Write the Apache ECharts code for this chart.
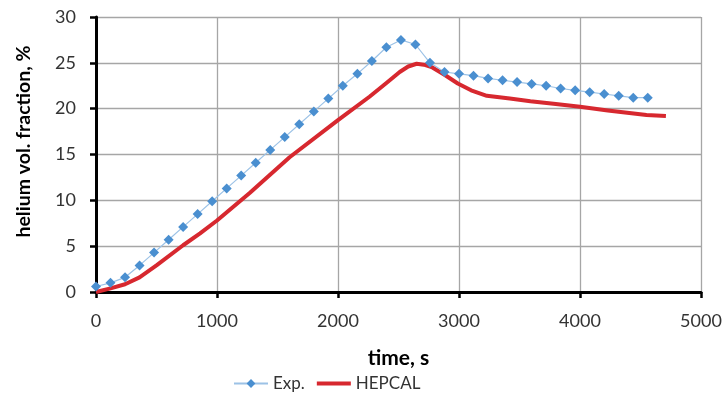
<!DOCTYPE html>
<html>
<head>
<meta charset="utf-8">
<script src="https://cdn.jsdelivr.net/npm/echarts@6/dist/echarts.min.js"></script>
<style>
  html, body { margin: 0; padding: 0; background: #fff; }
  #chart { width: 725px; height: 399px; }
</style>
</head>
<body>
<div id="chart"></div>
<script>
const FONT = 'Lato, "Open Sans", sans-serif';

// measured experiment (time in s, helium vol. fraction in %)
const expTime = [0, 120, 240, 360, 480, 600, 720, 840, 960, 1080, 1200, 1320, 1440, 1560, 1680, 1800,
  1920, 2040, 2160, 2280, 2400, 2520, 2640, 2760, 2880, 3000, 3120, 3240, 3360, 3480, 3600, 3720,
  3840, 3960, 4080, 4200, 4320, 4440, 4560];
const expValue = [0.6, 1.0, 1.6, 2.9, 4.3, 5.7, 7.1, 8.5, 9.9, 11.3, 12.7, 14.1, 15.5, 16.9, 18.3, 19.7,
  21.1, 22.5, 23.8, 25.2, 26.7, 27.5, 27.0, 25.0, 24.0, 23.8, 23.6, 23.3, 23.1, 22.9, 22.7, 22.5,
  22.2, 22.0, 21.8, 21.6, 21.4, 21.2, 21.2];

// HEPCAL calculation
const calcTime = [0, 120, 240, 360, 500, 720, 860, 1000, 1270, 1600, 2000, 2260, 2400, 2510,
  2580, 2650, 2710, 2780, 2880, 2990, 3100, 3230, 3420, 3590, 3800, 4000, 4230, 4550, 4710];
const calcValue = [0, 0.4, 0.85, 1.6, 2.9, 5.1, 6.4, 7.8, 10.8, 14.7, 18.75, 21.3, 22.8, 24.0,
  24.6, 24.9, 24.8, 24.5, 23.7, 22.75, 22.0, 21.4, 21.1, 20.8, 20.5, 20.2, 19.8, 19.3, 19.2];

const seriesNames = ['Exp.', 'HEPCAL'];
const xTicks = { min: 0, max: 5000, interval: 1000 };
const yTicks = { min: 0, max: 30, interval: 5 };

const zip = (xs, ys) => xs.map((x, i) => [x, ys[i]]);

const chart = echarts.init(document.getElementById('chart'));

const axisCommon = {
  axisLine: { show: true, onZero: false, lineStyle: { color: '#000', width: 3 } },
  axisTick: { show: true, inside: false, length: 6, lineStyle: { color: '#000', width: 2.5 } },
  splitLine: { show: true, lineStyle: { color: '#a6a6a6', width: 1.3 } },
};

chart.setOption({
  backgroundColor: '#fff',
  animation: false,
  textStyle: { fontFamily: FONT },
  grid: { left: 96, right: 24, top: 17, bottom: 107 },
  legend: {
    bottom: 2,
    left: 228,
    itemGap: 12,
    itemWidth: 34,
    itemHeight: 11,
    textStyle: { fontFamily: FONT, fontSize: 17, color: '#333' },
    data: [
      { name: seriesNames[0] },
      { name: seriesNames[1], icon: 'path://M0,0h34v4h-34z', itemStyle: { color: '#d7282f' } },
    ],
  },
  xAxis: {
    type: 'value',
    ...xTicks,
    ...axisCommon,
    axisLabel: { color: '#333', fontSize: 18, fontFamily: FONT, margin: 20, formatter: v => String(v) },
    name: 'time, s',
    nameLocation: 'middle',
    nameGap: 56,
    nameTextStyle: { color: '#000', fontSize: 21, fontWeight: 'bold', fontFamily: FONT },
  },
  yAxis: {
    type: 'value',
    ...yTicks,
    ...axisCommon,
    axisLabel: { color: '#333', fontSize: 18, fontFamily: FONT, margin: 20 },
    name: 'helium vol. fraction, %',
    nameLocation: 'middle',
    nameGap: 62,
    nameTextStyle: { color: '#000', fontSize: 19.5, fontWeight: 'bold', fontFamily: FONT, padding: [0, 0, 0, 26] },
  },
  series: [
    {
      name: seriesNames[0],
      type: 'line',
      data: zip(expTime, expValue),
      symbol: 'diamond',
      symbolSize: 10,
      itemStyle: { color: '#4a8fd0' },
      lineStyle: { color: '#9cc2e6', width: 1.2 },
      z: 3,
    },
    {
      name: seriesNames[1],
      type: 'line',
      data: zip(calcTime, calcValue),
      symbol: 'none',
      itemStyle: { color: '#d7282f' },
      lineStyle: { color: '#d7282f', width: 4, join: 'round' },
      z: 2,
    },
  ],
});
</script>
</body>
</html>
